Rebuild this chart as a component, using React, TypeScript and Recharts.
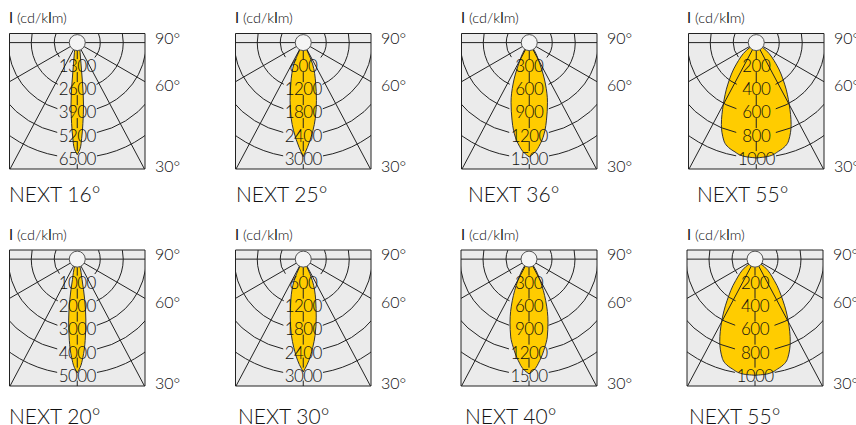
import { ComposedChart, Area, XAxis, YAxis, ReferenceArea, ReferenceDot, ReferenceLine } from 'recharts'

const FONT = 'Lato, sans-serif'
const INK = '#111'

// order: top row then bottom row
const beamNames = ['NEXT 16°', 'NEXT 25°', 'NEXT 36°', 'NEXT 55°', 'NEXT 20°', 'NEXT 30°', 'NEXT 40°', 'NEXT 55°']
const ringValues = [
  [1300, 2600, 3900, 5200, 6500],
  [600, 1200, 1800, 2400, 3000],
  [300, 600, 900, 1200, 1500],
  [200, 400, 600, 800, 1000],
  [1000, 2000, 3000, 4000, 5000],
  [600, 1200, 1800, 2400, 3000],
  [300, 600, 900, 1200, 1500],
  [200, 400, 600, 800, 1000],
]

// beam outlines in cd/klm: distance along the axis and half width at that distance
const axialValues = [
  [0, 170, 565, 1190, 2260, 3500, 4520, 5370, 5930, 6270],
  [0, 200, 550, 1040, 1490, 1960, 2270, 2710, 2940],
  [0, 100, 275, 535, 770, 1000, 1135, 1305, 1435, 1475],
  [0, 65, 183, 357, 530, 705, 845, 935, 980, 992],
  [130, 260, 870, 1740, 2610, 3480, 4220, 4650, 4870],
  [10, 200, 550, 1040, 1490, 1960, 2270, 2710, 2900],
  [13, 100, 275, 535, 810, 1000, 1135, 1305, 1435, 1475],
  [5, 65, 183, 357, 530, 705, 850, 940, 985, 995],
]
const halfWidths = [
  [0, 110, 160, 210, 295, 350, 315, 245, 160, 0],
  [0, 95, 240, 320, 340, 310, 250, 105, 0],
  [0, 65, 137, 209, 235, 222, 202, 143, 52, 0],
  [0, 83, 170, 244, 283, 300, 278, 191, 96, 0],
  [0, 95, 205, 320, 370, 340, 240, 120, 0],
  [0, 95, 235, 320, 335, 305, 245, 100, 0],
  [0, 65, 143, 215, 244, 235, 202, 137, 52, 0],
  [0, 80, 165, 240, 285, 302, 280, 195, 100, 0],
]

const spokeAngles = [28, 60]
const degreeLabels = ['90°', '60°', '30°']
const degreeStops = [-0.04, 0.37, 1.065] // share of the outer ring

// layout
const plotLefts = [9.5, 235.5, 461.5, 688.5, 9.5, 235.5, 461, 687]
const plotTops = [33.5, 33.5, 33.5, 33.5, 250, 250, 250, 250]
const titleLefts = [9, 236, 468, 697, 9, 238, 465, 689]
const titleTops = [181, 181, 181, 181, 403, 403, 403, 403]
const unitLefts = [9, 235, 461, 687, 9, 235, 461, 687]
const unitTops = [9, 9, 9, 9, 226, 226, 226, 226]
const PLOT = 134
const RING_PX = 23
const ABOVE_PX = 9
const AXIS_W = 40
const BELOW = 14

function Panel({ index }: { index: number }) {
  const rings = ringValues[index]
  const outer = rings[rings.length - 1]
  const unit = outer / (RING_PX * rings.length)
  const top = -ABOVE_PX * unit
  const bottom = (PLOT - ABOVE_PX) * unit
  const side = (PLOT / 2) * unit
  const data = axialValues[index].map((d, i) => ({ axial: d, beam: [-halfWidths[index][i], halfWidths[index][i]] }))
  const left = plotLefts[index]
  const tp = plotTops[index]
  const chartLeft = Math.floor(left) - 2
  const chartTop = Math.floor(tp) - 2
  const labelW = String(outer).length * 9 + 4
  return (
    <>
      <div style={{ position: 'absolute', left: unitLefts[index], top: unitTops[index], fontFamily: FONT, fontSize: 14.5, fontWeight: 300, color: INK, lineHeight: '18px', whiteSpace: 'nowrap' }}>
        <b>I</b> (cd/k<b>l</b>m)
      </div>
      <div style={{ position: 'absolute', left: titleLefts[index], top: titleTops[index], fontFamily: FONT, fontSize: 21, fontWeight: 300, color: INK, lineHeight: '26px', whiteSpace: 'nowrap' }}>
        {beamNames[index]}
      </div>
      <div style={{ position: 'absolute', left: chartLeft, top: chartTop }}>
        <ComposedChart
          layout="vertical"
          width={PLOT + AXIS_W + 6}
          height={PLOT + BELOW + 4}
          data={data}
          margin={{ top: tp - chartTop, left: left - chartLeft, right: AXIS_W + 2, bottom: BELOW }}
        >
          <XAxis type="number" hide domain={[-side, side]} allowDataOverflow />
          <YAxis type="number" dataKey="axial" hide domain={[top, bottom]} allowDataOverflow />
          <ReferenceArea x1={-side} x2={side} y1={top} y2={bottom} fill="#ebebeb" fillOpacity={1} stroke="#222" strokeWidth={1} />
          <Area dataKey="beam" type="monotone" fill="#ffcc00" fillOpacity={1} stroke="#333" strokeWidth={1} dot={false} activeDot={false} isAnimationActive={false} />
          <ReferenceLine y={0} stroke="#222" strokeWidth={1} />
          {spokeAngles.flatMap((a) =>
            [-1, 1].map((dir) => (
              <ReferenceLine
                key={`${a}${dir}`}
                segment={[
                  { x: 0, y: 0 },
                  { x: dir * 2 * outer * Math.sin((a * Math.PI) / 180), y: 2 * outer * Math.cos((a * Math.PI) / 180) },
                ]}
                ifOverflow="hidden"
                stroke="#222"
                strokeWidth={1}
              />
            ))
          )}
          <ReferenceLine
            segment={[{ x: 0, y: 0 }, { x: 0, y: bottom }]}
            stroke="#222"
            strokeWidth={1}
            strokeDasharray="16.5 13 10 13 10 13 10 13 10 13 20"
          />
          {rings.map((v, i) => {
            const r = RING_PX * (i + 1)
            const c = 2 * Math.PI * r
            return (
              <ReferenceDot
                key={v}
                x={0}
                y={0}
                r={r}
                ifOverflow="hidden"
                fill="none"
                stroke="#222"
                strokeWidth={1}
                strokeDasharray={`${c - labelW} ${labelW}`}
                strokeDashoffset={-(c / 4 + labelW / 2)}
              />
            )
          })}
          <ReferenceDot x={0} y={0} r={8} fill="#f4f4f4" stroke="#555" strokeWidth={1} ifOverflow="visible" />
          {rings.map((v) => (
            <ReferenceDot
              key={`t${v}`}
              x={0}
              y={v}
              r={0}
              fill="none"
              stroke="none"
              ifOverflow="visible"
              label={{ value: String(v), position: 'center', fontSize: 17, fontWeight: 300, letterSpacing: -0.6, fontFamily: FONT, fill: INK }}
            />
          ))}
          {degreeLabels.map((d, i) => (
            <ReferenceDot
              key={d}
              x={side}
              y={degreeStops[i] * outer}
              r={0}
              fill="none"
              stroke="none"
              ifOverflow="visible"
              label={{ value: d, position: 'right', offset: 10, fontSize: 16, fontWeight: 300, fontFamily: FONT, fill: INK }}
            />
          ))}
        </ComposedChart>
      </div>
    </>
  )
}

export default function App() {
  return (
    <div style={{ position: 'fixed', left: 0, top: 0, width: 856, height: 425, overflow: 'hidden', background: '#fff' }}>
      {beamNames.map((_, i) => (
        <Panel key={i} index={i} />
      ))}
    </div>
  )
}
